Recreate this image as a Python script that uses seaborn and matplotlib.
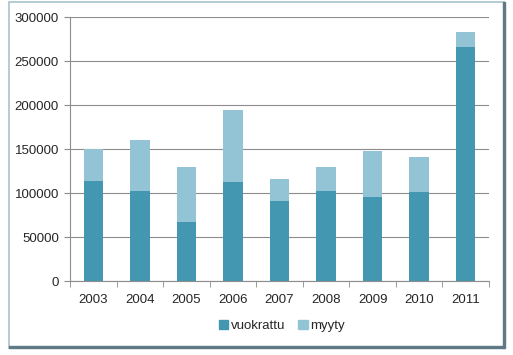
import matplotlib.pyplot as plt
import matplotlib.patches as mpatches
import numpy as np
import pandas as pd
import seaborn as sns

years = ['2003', '2004', '2005', '2006', '2007', '2008', '2009', '2010', '2011']
vuokrattu = [114000, 102000, 67000, 112000, 91000, 102000, 96000, 101000, 266000]
myyty = [36000, 58000, 63000, 82000, 25000, 28000, 52000, 40000, 17000]

df = pd.DataFrame({'vuosi': years, 'vuokrattu': vuokrattu, 'myyty': myyty})
df['yhteensa'] = df['vuokrattu'] + df['myyty']

dark = '#4497B0'
light = '#93C4D6'

sns.set_style('white')
plt.rcParams['font.family'] = ['Liberation Sans', 'DejaVu Sans']

fig = plt.figure(figsize=(5.13, 3.55), dpi=100)
ax = fig.add_axes([70 / 513, 1 - 281 / 355, 419 / 513, 264 / 355])

# stacked bars: total (light) behind, rented (dark) in front
sns.barplot(data=df, x='vuosi', y='yhteensa', color=light, width=0.42,
            saturation=1, linewidth=0, ax=ax)
sns.barplot(data=df, x='vuosi', y='vuokrattu', color=dark, width=0.42,
            saturation=1, linewidth=0, ax=ax)

ax.set_ylim(0, 300000)
ax.set_yticks(np.arange(0, 300001, 50000))
ax.set_xlim(-0.5, len(years) - 0.5)
ax.yaxis.grid(True, color='#8c8c8c', linewidth=0.8)
ax.set_axisbelow(True)
ax.set_xlabel('')
ax.set_ylabel('')
for s in ['top', 'right']:
    ax.spines[s].set_visible(False)
for s in ['left', 'bottom']:
    ax.spines[s].set_color('#8c8c8c')
    ax.spines[s].set_linewidth(0.8)

ax.tick_params(axis='y', which='major', left=True, length=4, color='#8c8c8c',
               labelsize=9.5, pad=4)
ax.tick_params(axis='x', which='major', bottom=False, labelsize=9.5, pad=6)
ax.set_xticks(np.arange(-0.5, len(years), 1), minor=True)
ax.tick_params(axis='x', which='minor', bottom=True, length=4, color='#8c8c8c')

handles = [mpatches.Patch(color=dark, label='vuokrattu'),
           mpatches.Patch(color=light, label='myyty')]
fig.legend(handles=handles, loc='center', bbox_to_anchor=(282 / 513, 1 - 326 / 355),
           ncol=2, frameon=False, fontsize=9.5, handlelength=0.7, handleheight=0.7,
           handletextpad=0.2, columnspacing=1.0)

# chart frame
fig.patches.append(mpatches.Rectangle((9 / 513, 1 - 348 / 355), 495 / 513, 346 / 355,
                                      transform=fig.transFigure, fill=False,
                                      edgecolor='#a9c3cc', linewidth=1.2))
fig.patches.append(mpatches.Rectangle((9 / 513, 1 - 348 / 355), 495 / 513, 2 / 355,
                                      transform=fig.transFigure, color='#5f7a85'))
fig.patches.append(mpatches.Rectangle((503 / 513, 1 - 348 / 355), 2 / 513, 346 / 355,
                                      transform=fig.transFigure, color='#5f7a85'))

fig.savefig('out.png', dpi=100)
